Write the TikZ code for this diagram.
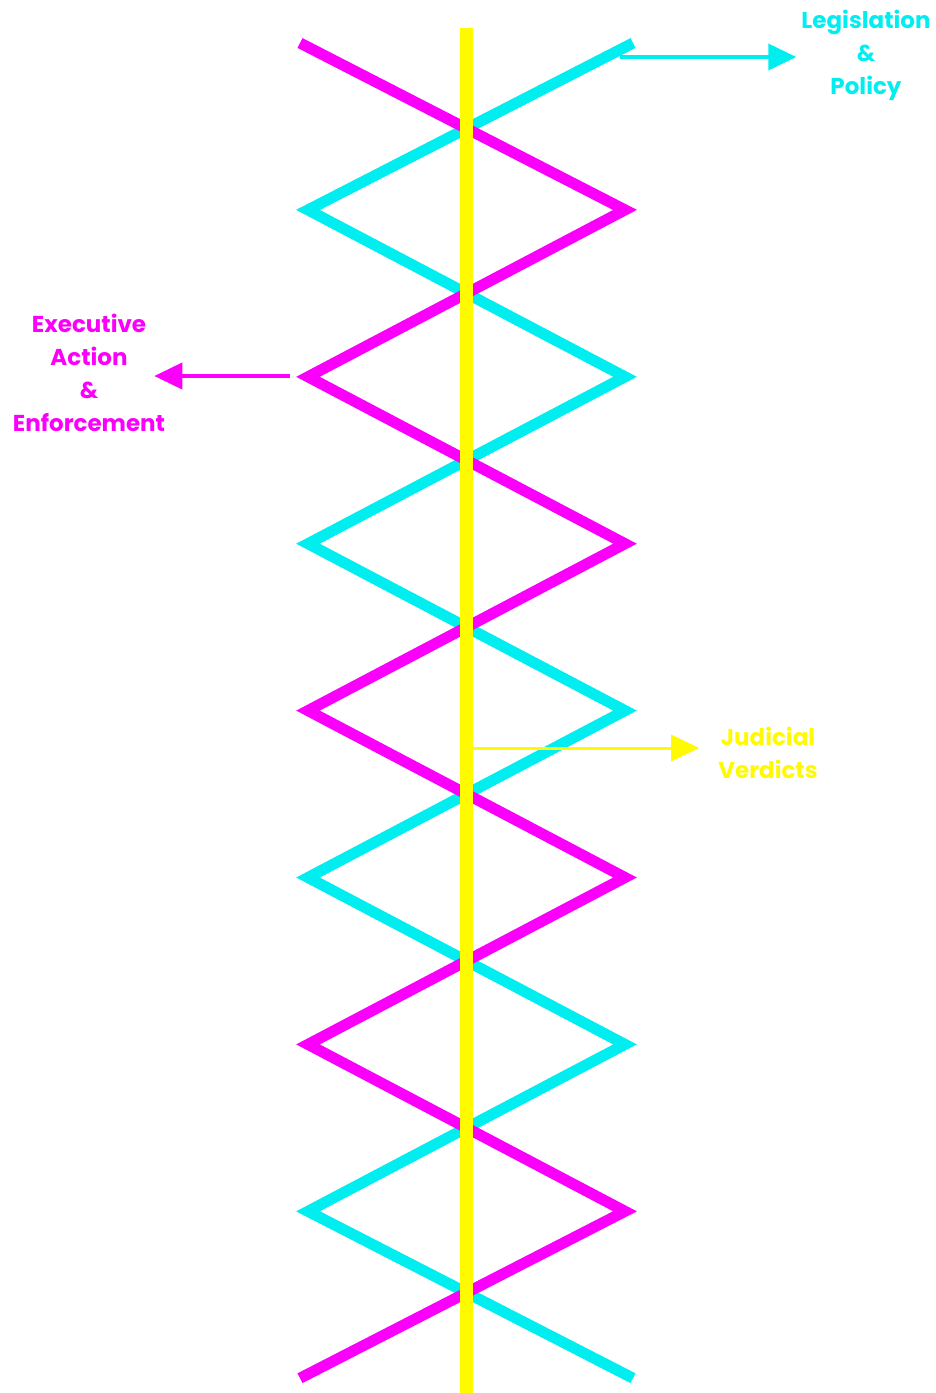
\documentclass[tikz,border=0pt]{standalone}
\usepackage{fontspec}
\setmainfont{Poppins}
\usepackage{xcolor}
\usetikzlibrary{positioning, arrows.meta}

\definecolor{legcyan}{RGB}{0,238,240}
\definecolor{exemagenta}{RGB}{250,0,250}
\definecolor{judyellow}{RGB}{255,250,0}

\tikzset{
  zigline/.style={line width=11pt},
  branchlabel/.style={align=center, font=\fontsize{23}{33}\selectfont\bfseries, inner sep=0pt},
  branchar/.style={-{Triangle[length=28pt,width=26pt]}, line width=4pt}
}

\begin{document}
\begin{tikzpicture}[x=1pt,y=-1pt]
        \useasboundingbox (0,0) rectangle (936,1393);
        \foreach \i/\xm/\xc in {0/300/633, 1/625/308, 2/308/625, 3/625/308, 4/308/625, 5/625/308, 6/308/625, 7/625/308, 8/300/633} {
          \coordinate (m\i) at (\xm,43+\i*166.9);
          \coordinate (c\i) at (\xc,43+\i*166.9);
        }
        \draw[zigline, legcyan] (c0) \foreach \i in {1,...,8} {-- (c\i)};
        \draw[zigline, exemagenta] (m0) \foreach \i in {1,...,8} {-- (m\i)};

        \coordinate (jtop) at (466,28);
        \coordinate (jbot) at (466,1393);
        \draw[line width=13pt, judyellow] (jtop) -- (jbot);

        \node[branchlabel, text=legcyan] (leg) at (866,55) {Legislation\\\&\\Policy};
        \node[branchlabel, text=exemagenta] (exe) at (89,373) {Executive\\Action\\\&\\Enforcement};
        \node[branchlabel, text=judyellow] (jud) at (768,753) {Judicial\\Verdicts};

        \coordinate (legtail) at (620,57);
        \coordinate (exetail) at (290,376);
        \coordinate (judtail) at (466,748);
        \draw[branchar, legcyan] (legtail) -- ([xshift=-5pt]leg.west |- legtail);
        \draw[branchar, exemagenta] (exetail) -- ([xshift=-11pt]exe.east |- exetail);
        \draw[branchar, judyellow, line width=3pt] (judtail) -- ([xshift=-19pt]jud.west |- judtail);
\end{tikzpicture}
\end{document}
